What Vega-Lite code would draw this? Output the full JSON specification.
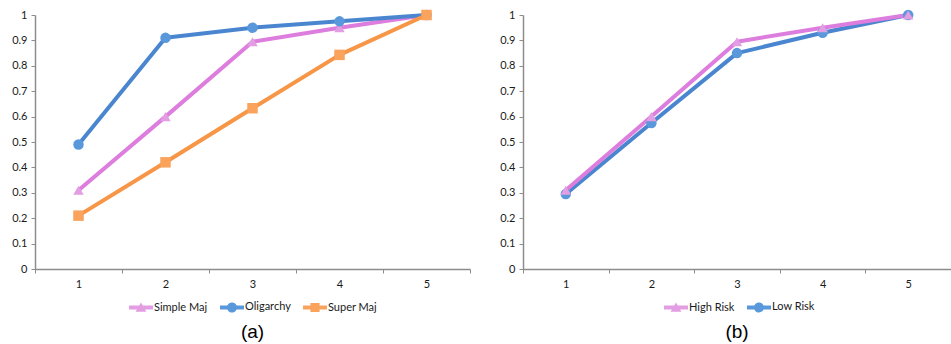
{
  "$schema": "https://vega.github.io/schema/vega-lite/v6.json",
  "padding": {"left": 11, "top": 9, "right": 0, "bottom": 0},
  "spacing": 53,
  "bounds": "flush",
  "config": {
    "view": {"stroke": null},
    "axis": {
      "domainColor": "#8c8c8c", "domainWidth": 1.5, "tickColor": "#8c8c8c", "tickWidth": 1, "tickSize": 4,
      "labelFont": "Lato", "labelFontSize": 11, "labelColor": "#1a1a1a", "grid": false, "title": null
    },
    "legend": {
      "orient": "none", "direction": "horizontal", "title": null, "padding": 0,
      "labelFont": "Lato", "labelFontSize": 11, "labelColor": "#1a1a1a", "labelOffset": 1,
      "columnPadding": 12, "symbolSize": 576, "symbolStrokeWidth": 0, "symbolOpacity": 1, "legendY": 280
    },
    "title": {"font": "Liberation Sans", "fontSize": 19, "fontWeight": "normal", "color": "#000000", "orient": "bottom", "anchor": "middle", "offset": 10}
  },
  "datasets": {
    "a": [
      {"x": 1, "series": "Simple Maj", "v": 0.31},
      {"x": 2, "series": "Simple Maj", "v": 0.60},
      {"x": 3, "series": "Simple Maj", "v": 0.895},
      {"x": 4, "series": "Simple Maj", "v": 0.95},
      {"x": 5, "series": "Simple Maj", "v": 1.0},
      {"x": 1, "series": "Oligarchy", "v": 0.49},
      {"x": 2, "series": "Oligarchy", "v": 0.91},
      {"x": 3, "series": "Oligarchy", "v": 0.95},
      {"x": 4, "series": "Oligarchy", "v": 0.975},
      {"x": 5, "series": "Oligarchy", "v": 1.0},
      {"x": 1, "series": "Super Maj", "v": 0.21},
      {"x": 2, "series": "Super Maj", "v": 0.42},
      {"x": 3, "series": "Super Maj", "v": 0.633},
      {"x": 4, "series": "Super Maj", "v": 0.843},
      {"x": 5, "series": "Super Maj", "v": 1.0}
    ],
    "b": [
      {"x": 1, "series": "Low Risk", "v": 0.295},
      {"x": 2, "series": "Low Risk", "v": 0.575},
      {"x": 3, "series": "Low Risk", "v": 0.85},
      {"x": 4, "series": "Low Risk", "v": 0.93},
      {"x": 5, "series": "Low Risk", "v": 1.0},
      {"x": 1, "series": "High Risk", "v": 0.31},
      {"x": 2, "series": "High Risk", "v": 0.60},
      {"x": 3, "series": "High Risk", "v": 0.895},
      {"x": 4, "series": "High Risk", "v": 0.95},
      {"x": 5, "series": "High Risk", "v": 1.0}
    ]
  },
  "hconcat": [
    {
      "width": 435, "height": 254,
      "title": {"text": "(a)"},
      "data": {"name": "a"},
      "encoding": {
        "x": {"field": "x", "type": "ordinal", "scale": {"type": "band", "paddingInner": 0, "paddingOuter": 0},
              "axis": {"labelAngle": 0, "labelPadding": 5, "tickBand": "extent"}},
        "y": {"field": "v", "type": "quantitative", "scale": {"domain": [0, 1], "nice": false},
              "axis": {"values": [0, 0.1, 0.2, 0.3, 0.4, 0.5, 0.6, 0.7, 0.8, 0.9, 1], "format": ".1~f", "labelPadding": 4}}
      },
      "layer": [
        {"mark": {"type": "line", "strokeWidth": 4, "strokeJoin": "round"},
         "encoding": {"color": {"field": "series", "type": "nominal",
           "scale": {"domain": ["Simple Maj", "Oligarchy", "Super Maj"], "range": ["#dd7ddd", "#4a86d0", "#f79646"]}, "legend": null}}},
        {"mark": {"type": "point", "filled": true, "opacity": 1, "size": 110},
         "encoding": {
           "color": {"field": "series", "type": "nominal",
             "scale": {"domain": ["Simple Maj", "Oligarchy", "Super Maj"], "range": ["#e39ee3", "#5a98dc", "#f9a35c"]},
             "legend": {"legendX": 94,
               "symbolType": {"expr": "datum.value == 'Simple Maj' ? 'M-1,-0.17H1V0.17H-1Z M0,-0.42L0.45,0.36L-0.45,0.36Z' : datum.value == 'Oligarchy' ? 'M-1,-0.17H1V0.17H-1Z M-0.42,0A0.42,0.42,0,1,1,0.42,0A0.42,0.42,0,1,1,-0.42,0Z' : 'M-1,-0.17H1V0.17H-1Z M-0.38,-0.38H0.38V0.38H-0.38Z'"}}},
           "shape": {"field": "series", "type": "nominal",
             "scale": {"domain": ["Simple Maj", "Oligarchy", "Super Maj"], "range": ["triangle-up", "circle", "square"]}, "legend": null}}}
      ],
      "resolve": {"scale": {"color": "independent"}}
    },
    {
      "width": 428, "height": 254,
      "title": {"text": "(b)"},
      "data": {"name": "b"},
      "encoding": {
        "x": {"field": "x", "type": "ordinal", "scale": {"type": "band", "paddingInner": 0, "paddingOuter": 0},
              "axis": {"labelAngle": 0, "labelPadding": 5, "tickBand": "extent"}},
        "y": {"field": "v", "type": "quantitative", "scale": {"domain": [0, 1], "nice": false},
              "axis": {"values": [0, 0.1, 0.2, 0.3, 0.4, 0.5, 0.6, 0.7, 0.8, 0.9, 1], "format": ".1~f", "labelPadding": 4}}
      },
      "layer": [
        {"mark": {"type": "line", "strokeWidth": 4, "strokeJoin": "round"},
         "encoding": {"color": {"field": "series", "type": "nominal",
           "scale": {"domain": ["High Risk", "Low Risk"], "range": ["#dd7ddd", "#4a86d0"]}, "legend": null}}},
        {"mark": {"type": "point", "filled": true, "opacity": 1, "size": 110},
         "encoding": {
           "color": {"field": "series", "type": "nominal",
             "scale": {"domain": ["High Risk", "Low Risk"], "range": ["#e39ee3", "#5a98dc"]},
             "legend": {"legendX": 141,
               "symbolType": {"expr": "datum.value == 'High Risk' ? 'M-1,-0.17H1V0.17H-1Z M0,-0.42L0.45,0.36L-0.45,0.36Z' : 'M-1,-0.17H1V0.17H-1Z M-0.42,0A0.42,0.42,0,1,1,0.42,0A0.42,0.42,0,1,1,-0.42,0Z'"}}},
           "shape": {"field": "series", "type": "nominal",
             "scale": {"domain": ["High Risk", "Low Risk"], "range": ["triangle-up", "circle"]}, "legend": null}}}
      ],
      "resolve": {"scale": {"color": "independent"}}
    }
  ]
}
